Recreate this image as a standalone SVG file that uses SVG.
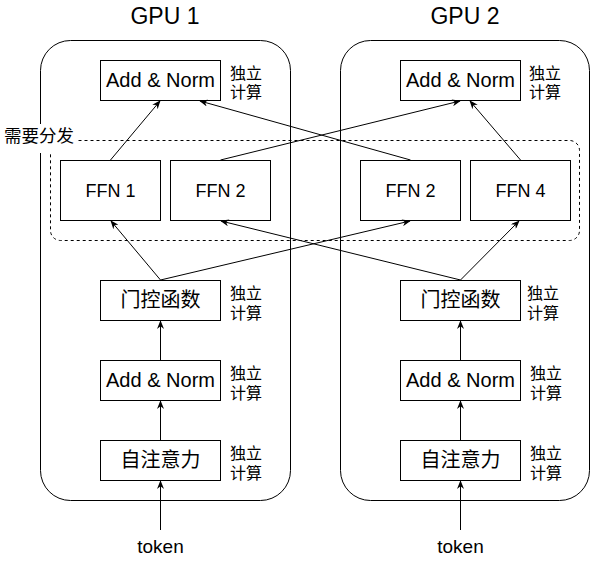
<svg xmlns="http://www.w3.org/2000/svg" width="591" height="561" viewBox="0 0 591 561">
<defs>
<style>
text{font-family:"Liberation Sans","Noto Sans CJK SC",sans-serif;fill:#000}
.box{fill:#fff;stroke:#000;stroke-width:1}
.gpu{fill:none;stroke:#000;stroke-width:1}
.dash{fill:none;stroke:#000;stroke-width:1;stroke-dasharray:3 3}
.lbl{font-size:20px;text-anchor:middle}
.ffn{font-size:18px;text-anchor:middle}
.side{font-size:16px}
.title{font-size:23px;text-anchor:middle}
.edge{fill:none;stroke:#000;stroke-width:1;marker-end:url(#arr)}
</style>
<marker id="arr" viewBox="0 0 10 8" refX="9" refY="4" markerWidth="9" markerHeight="7" markerUnits="userSpaceOnUse" orient="auto">
<path d="M0,0 L10,4 L0,8 L3,4 z" fill="#000"/>
</marker>
</defs>
<rect width="591" height="561" fill="#fff"/>

<g id="gpu1">
<rect class="gpu" x="40.5" y="40.5" width="250" height="460" rx="30"/>
<text class="title" x="165" y="24">GPU 1</text>
</g>
<g id="gpu2">
<rect class="gpu" x="340.5" y="40.5" width="249" height="460" rx="30"/>
<text class="title" x="465" y="24">GPU 2</text>
</g>

<g id="dispatch">
<rect class="dash" x="50.5" y="140.5" width="529" height="100" rx="10"/>
<rect x="2" y="124" width="76" height="29" fill="#fff"/>
<text class="side" x="4" y="142" style="font-size:17.5px">需要分发</text>
</g>

<g id="addnorm1-top"><rect class="box" x="100.5" y="60.5" width="120" height="40"/><text class="lbl" x="160.5" y="87">Add &amp; Norm</text><text class="side" x="230" y="79">独立</text><text class="side" x="230" y="98">计算</text></g>
<g id="addnorm2-top"><rect class="box" x="400.5" y="60.5" width="120" height="40"/><text class="lbl" x="460.5" y="87">Add &amp; Norm</text><text class="side" x="529" y="79">独立</text><text class="side" x="529" y="98">计算</text></g>

<g id="ffn1"><rect class="box" x="60.5" y="160.5" width="100" height="60"/><text class="ffn" x="110.5" y="196.5">FFN 1</text></g>
<g id="ffn2a"><rect class="box" x="170.5" y="160.5" width="100" height="60"/><text class="ffn" x="220.5" y="196.5">FFN 2</text></g>
<g id="ffn2b"><rect class="box" x="360.5" y="160.5" width="100" height="60"/><text class="ffn" x="410.5" y="196.5">FFN 2</text></g>
<g id="ffn4"><rect class="box" x="470.5" y="160.5" width="100" height="60"/><text class="ffn" x="520.5" y="196.5">FFN 4</text></g>

<g id="gate1"><rect class="box" x="100.5" y="280.5" width="120" height="40"/><text class="lbl" x="160.5" y="307">门控函数</text><text class="side" x="230" y="299">独立</text><text class="side" x="230" y="319">计算</text></g>
<g id="gate2"><rect class="box" x="400.5" y="280.5" width="120" height="40"/><text class="lbl" x="460.5" y="307">门控函数</text><text class="side" x="527" y="299">独立</text><text class="side" x="527" y="319">计算</text></g>

<g id="addnorm1-low"><rect class="box" x="100.5" y="360.5" width="120" height="40"/><text class="lbl" x="160.5" y="387">Add &amp; Norm</text><text class="side" x="230" y="379">独立</text><text class="side" x="230" y="399">计算</text></g>
<g id="addnorm2-low"><rect class="box" x="400.5" y="360.5" width="120" height="40"/><text class="lbl" x="460.5" y="387">Add &amp; Norm</text><text class="side" x="530" y="379">独立</text><text class="side" x="530" y="399">计算</text></g>

<g id="attn1"><rect class="box" x="100.5" y="440.5" width="120" height="40"/><text class="lbl" x="160.5" y="467">自注意力</text><text class="side" x="230" y="459">独立</text><text class="side" x="230" y="479">计算</text></g>
<g id="attn2"><rect class="box" x="400.5" y="440.5" width="120" height="40"/><text class="lbl" x="460.5" y="467">自注意力</text><text class="side" x="530" y="459">独立</text><text class="side" x="530" y="479">计算</text></g>

<g id="token1"><text class="lbl" x="160.5" y="553" style="font-size:19px">token</text></g>
<g id="token2"><text class="lbl" x="460.5" y="553" style="font-size:19px">token</text></g>

<g id="connectors">
<line class="edge" x1="160.5" y1="530" x2="160.5" y2="481"/>
<line class="edge" x1="160.5" y1="440" x2="160.5" y2="401"/>
<line class="edge" x1="160.5" y1="360" x2="160.5" y2="321"/>
<line class="edge" x1="460.5" y1="530" x2="460.5" y2="481"/>
<line class="edge" x1="460.5" y1="440" x2="460.5" y2="401"/>
<line class="edge" x1="460.5" y1="360" x2="460.5" y2="321"/>
<line class="edge" x1="160.5" y1="280" x2="111" y2="221"/>
<line class="edge" x1="160.5" y1="280" x2="410" y2="221"/>
<line class="edge" x1="460.5" y1="280" x2="221" y2="221"/>
<line class="edge" x1="460.5" y1="280" x2="519" y2="221"/>
<line class="edge" x1="110.5" y1="160" x2="160" y2="101"/>
<line class="edge" x1="220.5" y1="160" x2="460" y2="101"/>
<line class="edge" x1="410.5" y1="160" x2="200" y2="101"/>
<line class="edge" x1="520.5" y1="160" x2="470" y2="101"/>
</g>
</svg>
